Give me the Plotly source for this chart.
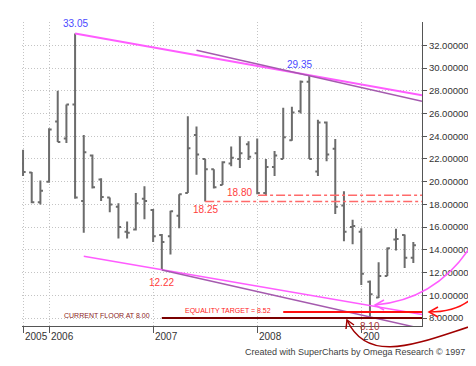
import plotly.graph_objects as go

# ---------------- data (monthly OHLC) ----------------
months = ["2005-10", "2005-11", "2005-12",
          "2006-01", "2006-02", "2006-03", "2006-04", "2006-05", "2006-06",
          "2006-07", "2006-08", "2006-09", "2006-10", "2006-11", "2006-12",
          "2007-01", "2007-02", "2007-03", "2007-04", "2007-05", "2007-06",
          "2007-07", "2007-08", "2007-09", "2007-10", "2007-11", "2007-12",
          "2008-01", "2008-02", "2008-03", "2008-04", "2008-05", "2008-06",
          "2008-07", "2008-08", "2008-09", "2008-10", "2008-11", "2008-12",
          "2009-01", "2009-02", "2009-03", "2009-04", "2009-05", "2009-06",
          "2009-07"]
opens = [21.6, 20.8, 18.2,
         20.0, 25.3, 23.8, 26.8, 18.3, 22.3,
         20.2, 18.6, 17.8, 15.6, 15.8, 18.5,
         17.5, 15.3, 15.2, 17.0, 19.0, 24.1,
         22.0, 21.1, 19.7, 21.6, 22.0, 23.3,
         22.5, 19.0, 21.3, 22.0, 23.65, 26.2,
         28.8, 20.9, 25.2, 22.9, 17.9, 16.0,
         15.6, 11.2, 9.8, 11.7, 14.9, 15.3,
         13.3]
highs = [22.8, 20.85, 20.1,
         24.7, 28.0, 26.8, 33.05, 24.1, 22.4,
         20.3, 18.6, 18.1, 16.5, 19.0, 19.6,
         17.6, 15.4, 17.45, 18.9, 25.75, 24.85,
         22.0, 21.1, 21.8, 23.1, 24.0, 23.55,
         23.8, 22.0, 22.7, 26.5, 26.6, 28.9,
         29.35, 25.45, 25.3, 23.75, 19.15, 16.65,
         15.9, 11.3, 12.9, 14.2, 15.85, 15.35,
         14.7]
lows = [20.5, 18.1, 18.0,
        19.9, 23.5, 23.4, 18.5, 15.5, 19.4,
        18.3, 17.3, 15.0, 15.0, 15.7, 16.7,
        14.7, 12.22, 13.6, 15.9, 19.0, 20.6,
        18.25, 19.4, 19.7, 21.35, 21.2, 21.9,
        18.9, 18.8, 20.5, 22.0, 23.6, 26.0,
        22.0, 20.5, 21.8, 17.15, 14.75, 14.5,
        10.9, 8.10, 9.75, 11.7, 13.95, 12.4,
        12.85]
closes = [20.85, 18.2, 19.2,
          24.6, 23.5, 26.8, 18.6, 22.6, 19.5,
          18.65, 18.0, 16.0, 15.5, 18.1, 18.3,
          15.2, 14.7, 17.4, 18.9, 22.95, 22.4,
          21.1, 19.5, 21.7, 22.1, 22.5, 22.2,
          19.0, 21.3, 22.3, 23.9, 26.1, 28.8,
          22.0, 25.2, 22.4, 17.8, 15.6, 16.1,
          11.9, 10.1, 11.7, 14.15, 14.95, 13.3,
          14.4]

year_labels = ["2005", "2006", "2007", "2008", "200"]
year_positions = [0, 3, 15, 27, 39]          # bar index of first month shown per year
price_ticks = [8, 10, 12, 14, 16, 18, 20, 22, 24, 26, 28, 30, 32]

# reference levels / trend end values (price units)
level_floor = 8.00
level_target = 8.52
level_r1 = 18.80
level_r2 = 18.25
upper_trend_end = 27.6
upper_trend2_start, upper_trend2_end = 31.57, 27.08
lower_trend_start, lower_trend_end = 13.43, 8.3
lower_trend2_end = 7.06

x = list(range(len(months)))
x_right = 46.0

# ---------------- figure ----------------
bar_col = "#6c6c6c"
fig = go.Figure(go.Ohlc(
    x=x, open=opens, high=highs, low=lows, close=closes,
    increasing=dict(line=dict(color=bar_col, width=2)),
    decreasing=dict(line=dict(color=bar_col, width=2)),
    tickwidth=0.3, hoverinfo="skip", showlegend=False))

i_top = highs.index(max(highs))
i_low = lows.index(min(lows))
i_1222 = lows.index(12.22)
i_peak2 = highs.index(29.35)

shapes = []
# trend lines
shapes.append(dict(type="line", xref="x", yref="y", x0=i_top, y0=highs[i_top],
                   x1=x_right, y1=upper_trend_end, line=dict(color="#ff5cff", width=2), layer="above"))
shapes.append(dict(type="line", xref="x", yref="y", x0=20.0, y0=upper_trend2_start,
                   x1=x_right, y1=upper_trend2_end, line=dict(color="#a55aae", width=1.5), layer="above"))
shapes.append(dict(type="line", xref="x", yref="y", x0=7.0, y0=lower_trend_start,
                   x1=x_right, y1=lower_trend_end, line=dict(color="#ff5cff", width=1.5), layer="above"))
shapes.append(dict(type="line", xref="x", yref="y", x0=i_1222, y0=lows[i_1222],
                   x1=x_right, y1=lower_trend2_end, line=dict(color="#a55aae", width=1.5), layer="above"))
# resistance lines (dash-dot)
shapes.append(dict(type="line", xref="x", yref="y", x0=27.1, y0=level_r1, x1=x_right, y1=level_r1,
                   line=dict(color="#ff6a6a", width=1.5, dash="dashdot"), layer="above"))
shapes.append(dict(type="line", xref="x", yref="y", x0=21.0, y0=level_r2, x1=x_right, y1=level_r2,
                   line=dict(color="#ff6a6a", width=1.5, dash="dashdot"), layer="above"))
# floor & target
shapes.append(dict(type="line", xref="x", yref="y", x0=i_1222, y0=level_floor, x1=x_right, y1=level_floor,
                   line=dict(color="#7a0000", width=2), layer="above"))
shapes.append(dict(type="line", xref="x", yref="y", x0=30.0, y0=level_target, x1=x_right, y1=level_target,
                   line=dict(color="#ff1010", width=2), layer="above"))

# curved arrows (paper coords from pixel positions)
L, T, PW, PH = 14, 14, 400, 304
def P(px, py):
    return (px - L) / PW, (T + PH - py) / PH

def path_q(p0, c, p2):
    a, b, d = P(*p0), P(*c), P(*p2)
    return f"M{a[0]},{a[1]} Q{b[0]},{b[1]} {d[0]},{d[1]}"

def path_c(p0, c1, c2, p3):
    a, b, c, d = P(*p0), P(*c1), P(*c2), P(*p3)
    return f"M{a[0]},{a[1]} C{b[0]},{b[1]} {c[0]},{c[1]} {d[0]},{d[1]}"

def path_l(pts):
    q = [P(*p) for p in pts]
    return "M" + " L".join(f"{a},{b}" for a, b in q)

arrows = [
    ("#ff5cff", path_q((480, 205), (445, 290), (367, 297)), [(376, 292), (367, 297), (376, 302)]),
    ("#ff1010", path_q((480, 258), (472, 304), (421, 304)), [(430, 299), (421, 304), (430, 309)]),
    ("#a00000", path_c((480, 313), (420, 330), (362, 362), (339, 312)), [(346, 317), (339, 312), (338, 321)]),
]
for col, pth, head in arrows:
    shapes.append(dict(type="path", xref="paper", yref="paper", path=pth,
                       line=dict(color=col, width=1.5), layer="above"))
    shapes.append(dict(type="path", xref="paper", yref="paper", path=path_l(head),
                       line=dict(color=col, width=1.5), layer="above"))

ann = []
lab_font = dict(family="Liberation Sans, Arial", size=10)
ann.append(dict(x=i_top, y=highs[i_top], text="33.05", showarrow=False, yanchor="bottom", yshift=2,
                font=dict(lab_font, color="#4a4aff")))
ann.append(dict(x=i_peak2, y=highs[i_peak2], text="29.35", showarrow=False, yanchor="bottom", yshift=3,
                xshift=-10, font=dict(lab_font, color="#4a4aff")))
ann.append(dict(x=25.0, y=level_r1, text="18.80", showarrow=False, yanchor="middle", yshift=3,
                font=dict(lab_font, color="#ff3c3c")))
ann.append(dict(x=21.0, y=level_r2, text="18.25", showarrow=False, yanchor="middle", yshift=-8,
                font=dict(lab_font, color="#ff3c3c")))
ann.append(dict(x=i_1222, y=lows[i_1222], text="12.22", showarrow=False, yanchor="top", yshift=-5,
                font=dict(lab_font, color="#ff3c3c")))
ann.append(dict(x=i_low, y=lows[i_low], text="8.10", showarrow=False, yanchor="top", yshift=-2,
                font=dict(lab_font, color="#b03a3a")))
ann.append(dict(x=i_1222, y=level_floor, text="CURRENT FLOOR AT 8.00", showarrow=False,
                xanchor="right", xshift=-10, yanchor="middle", yshift=2.5,
                font=dict(family="Liberation Sans, Arial", size=7, color="#8b1c1c")))
ann.append(dict(x=30.0, y=level_target, text="EQUALITY TARGET = 8.52", showarrow=False,
                xanchor="right", xshift=-10, yanchor="middle", yshift=1,
                font=dict(family="Liberation Sans, Arial", size=7, color="#ff1a1a")))
cx, cy = P(347, 344)
ann.append(dict(xref="paper", yref="paper", x=cx, y=cy, text="Created with SuperCharts by Omega Research © 1997",
                showarrow=False, xanchor="center", yanchor="middle",
                font=dict(family="Liberation Sans, Arial", size=9, color="#404040")))
# year labels, left-aligned just right of their tick marks
_, ylab = P(0, 328)
for pos, lab in zip(year_positions, year_labels):
    ann.append(dict(x=pos, xref="x", y=ylab, yref="paper", text=lab, showarrow=False,
                    xanchor="left", yanchor="middle", xshift=0,
                    font=dict(family="Liberation Sans, Arial", size=10, color="#333")))

grid = dict(showgrid=True, gridcolor="#c4c4c4", gridwidth=1, griddash="1px,2px", zeroline=False)
fig.update_layout(
    width=476, height=366,
    margin=dict(l=L, r=476 - L - PW, t=T, b=366 - T - PH),
    paper_bgcolor="white", plot_bgcolor="white",
    shapes=shapes, annotations=ann,
    xaxis=dict(range=[-0.12, x_right], tickmode="array", tickvals=year_positions,
               ticktext=[""] * len(year_positions),
               ticks="outside", ticklen=6, tickcolor="#555", showline=True, linecolor="#555", linewidth=1,
               rangeslider=dict(visible=False), **grid),
    yaxis=dict(range=[7.296, 34.056], side="right", tickmode="array", tickvals=price_ticks,
               tickformat=".5f", ticks="outside", ticklen=4, tickcolor="#555",
               showline=True, linecolor="#555", linewidth=1,
               tickfont=dict(family="Liberation Sans, Arial", size=9.5, color="#333"), **grid),
    showlegend=False,
)

fig.write_html("out.html")
